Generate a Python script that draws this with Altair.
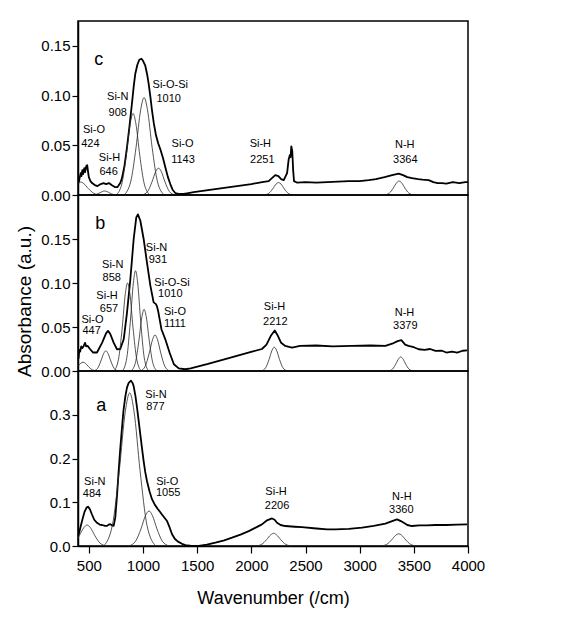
import altair as alt
import pandas as pd

FONT = "Liberation Sans"
X_DOMAIN = [400, 4000]

# ---------------- panel c ----------------
c_wn = [405, 415, 425, 432, 440, 448, 458, 466, 476, 485, 492, 500, 515, 530, 555, 580,
        610, 635, 660, 685, 710, 740, 765, 790, 806, 830, 852, 875, 898, 915, 929, 948,
        966, 985, 1000, 1021, 1037, 1052, 1068, 1083, 1100, 1120, 1140, 1160, 1185, 1206,
        1230, 1252, 1275, 1298, 1340, 1375, 1420, 1468, 1600, 1800, 2000, 2100, 2160, 2190,
        2221, 2250, 2275, 2299, 2330, 2345, 2355, 2362, 2369, 2378, 2386, 2394, 2420, 2500,
        2600, 2700, 2800, 2900, 3000, 3083, 3150, 3230, 3300, 3360, 3400, 3440, 3483, 3540,
        3580, 3637, 3680, 3720, 3760, 3800, 3860, 3920, 3975, 4000]
c_abs = [0.012, 0.017, 0.022, 0.019, 0.025, 0.021, 0.027, 0.023, 0.029, 0.030, 0.024, 0.018,
         0.014, 0.012, 0.010, 0.009, 0.011, 0.012, 0.011, 0.012, 0.010, 0.008, 0.008, 0.012,
         0.017, 0.030, 0.048, 0.069, 0.092, 0.110, 0.122, 0.131, 0.136, 0.137, 0.135, 0.130,
         0.122, 0.112, 0.099, 0.085, 0.072, 0.060, 0.052, 0.046, 0.037, 0.028, 0.018, 0.011,
         0.005, 0.002, 0.001, 0.001, 0.002, 0.003, 0.005, 0.008, 0.011, 0.013, 0.014, 0.017,
         0.020, 0.019, 0.016, 0.015, 0.022, 0.036, 0.040, 0.038, 0.049, 0.044, 0.025, 0.014,
         0.0125, 0.013, 0.0125, 0.013, 0.0135, 0.014, 0.014, 0.015, 0.016, 0.018, 0.020,
         0.0215, 0.020, 0.018, 0.017, 0.016, 0.0155, 0.015, 0.013, 0.012, 0.012, 0.0115,
         0.013, 0.012, 0.013, 0.013]

c_bands = [
    ("Si-O 424", [400, 424, 454, 496, 544, 604], [0.0125, 0.013, 0.0114, 0.0064, 0.0018, 0.0]),
    ("Si-H 646", [526, 566, 598, 626, 646, 666, 694, 726, 766],
     [0, 0.0005, 0.002, 0.0035, 0.004, 0.0035, 0.002, 0.0005, 0]),
    ("Si-N 908", [752, 804, 846, 882, 908, 934, 970, 1012, 1064],
     [0, 0.011, 0.040, 0.072, 0.082, 0.072, 0.040, 0.011, 0]),
    ("Si-O-Si 1010", [824, 886, 936, 979, 1010, 1041, 1084, 1134, 1196],
     [0, 0.0132, 0.048, 0.086, 0.098, 0.086, 0.048, 0.0132, 0]),
    ("Si-O 1143", [993, 1043, 1083, 1118, 1143, 1168, 1203, 1243, 1293],
     [0, 0.0036, 0.0132, 0.0238, 0.027, 0.0238, 0.0132, 0.0036, 0]),
    ("Si-H 2251", [2116, 2161, 2197, 2228, 2251, 2274, 2305, 2341, 2386],
     [0, 0.0017, 0.0061, 0.011, 0.0125, 0.011, 0.0061, 0.0017, 0]),
    ("N-H 3364", [3229, 3274, 3310, 3341, 3364, 3387, 3418, 3454, 3499],
     [0, 0.0019, 0.0069, 0.0123, 0.014, 0.0123, 0.0069, 0.0019, 0]),
]

c_notes = [("Si-O", 548, 0.0655), ("424", 514, 0.0510),
           ("Si-H", 691, 0.0372), ("646", 683, 0.0229),
           ("Si-N", 767, 0.0984), ("908", 767, 0.0823),
           ("Si-O-Si", 1252, 0.1102), ("1010", 1237, 0.0961),
           ("Si-O", 1365, 0.0510), ("1143", 1369, 0.0354),
           ("Si-H", 2083, 0.0510), ("2251", 2101, 0.0354),
           ("N-H", 3416, 0.0501), ("3364", 3421, 0.0354)]

# ---------------- panel b ----------------
b_wn = [405, 412, 420, 430, 440, 453, 465, 475, 490, 510, 540, 575, 622, 660, 677, 698,
        730, 760, 790, 822, 852, 883, 914, 938, 953, 975, 1006, 1037, 1068, 1098, 1120,
        1130, 1140, 1170, 1206, 1245, 1285, 1330, 1390, 1440, 1600, 1800, 2006, 2098,
        2140, 2180, 2216, 2245, 2275, 2313, 2375, 2450, 2600, 2750, 2929, 3100, 3237,
        3300, 3350, 3385, 3420, 3450, 3500, 3545, 3600, 3650, 3700, 3760, 3800, 3852,
        3900, 3950, 3991]
b_abs = [0.014, 0.024, 0.022, 0.028, 0.026, 0.0285, 0.032, 0.028, 0.0285, 0.025, 0.021,
         0.021, 0.032, 0.043, 0.0456, 0.042, 0.032, 0.0247, 0.025, 0.036, 0.066, 0.104,
         0.150, 0.1746, 0.178, 0.171, 0.150, 0.123, 0.097, 0.078, 0.076, 0.073, 0.068,
         0.0475, 0.036, 0.021, 0.0076, 0.003, 0.002, 0.003, 0.008, 0.015, 0.022, 0.025,
         0.030, 0.040, 0.046, 0.040, 0.032, 0.0285, 0.0266, 0.0285, 0.029, 0.028, 0.0285,
         0.029, 0.0285, 0.031, 0.034, 0.035, 0.030, 0.0285, 0.027, 0.0247, 0.024, 0.025,
         0.0228, 0.023, 0.021, 0.022, 0.021, 0.023, 0.0235]

b_bands = [
    ("Si-O 447", [400, 426, 447, 468, 497, 531, 573],
     [0.0053, 0.0088, 0.010, 0.0088, 0.0049, 0.0014, 0]),
    ("Si-H 657", [543, 581, 611, 638, 657, 676, 703, 733, 771],
     [0, 0.0031, 0.0113, 0.0202, 0.023, 0.0202, 0.0113, 0.0031, 0]),
    ("Si-N 858", [732, 774, 808, 837, 858, 879, 908, 942, 984],
     [0, 0.0135, 0.049, 0.088, 0.100, 0.088, 0.049, 0.0135, 0]),
    ("Si-N 931", [811, 851, 883, 911, 931, 951, 979, 1011, 1051],
     [0, 0.0154, 0.056, 0.100, 0.114, 0.100, 0.056, 0.0154, 0]),
    ("Si-O-Si 1010", [890, 930, 962, 990, 1010, 1030, 1058, 1090, 1130],
     [0, 0.0095, 0.0343, 0.0616, 0.070, 0.0616, 0.0343, 0.0095, 0]),
    ("Si-O 1111", [976, 1021, 1057, 1089, 1111, 1133, 1165, 1201, 1246],
     [0, 0.0055, 0.020, 0.036, 0.041, 0.036, 0.020, 0.0055, 0]),
    ("Si-H 2212", [2092, 2132, 2164, 2192, 2212, 2232, 2260, 2292, 2332],
     [0, 0.0036, 0.0132, 0.0238, 0.027, 0.0238, 0.0132, 0.0036, 0]),
    ("N-H 3379", [3265, 3303, 3333, 3360, 3379, 3398, 3425, 3455, 3493],
     [0, 0.0022, 0.0078, 0.014, 0.016, 0.014, 0.0078, 0.0022, 0]),
]

b_notes = [("Si-O", 534, 0.0585), ("447", 526, 0.0450),
           ("Si-H", 668, 0.0854), ("657", 686, 0.0706),
           ("Si-N", 721, 0.1203), ("858", 711, 0.1061),
           ("Si-N", 1125, 0.1395), ("931", 1137, 0.1260),
           ("Si-O-Si", 1268, 0.1003), ("1010", 1252, 0.0871),
           ("Si-O", 1295, 0.0673), ("1111", 1295, 0.0538),
           ("Si-H", 2214, 0.0729), ("2212", 2221, 0.0561),
           ("N-H", 3414, 0.0661), ("3379", 3421, 0.0512)]

# ---------------- panel a ----------------
a_wn = [405, 420, 440, 460, 480, 492, 510, 529, 550, 575, 600, 622, 650, 668, 685, 698,
        715, 729, 744, 760, 775, 790, 806, 820, 837, 852, 868, 889, 905, 914, 930, 945,
        960, 975, 990, 1006, 1020, 1037, 1060, 1083, 1110, 1138, 1160, 1175, 1200, 1222,
        1245, 1268, 1295, 1323, 1360, 1391, 1450, 1514, 1590, 1668, 1750, 1822, 1900,
        1976, 2040, 2098, 2145, 2191, 2215, 2237, 2270, 2314, 2400, 2468, 2600, 2700,
        2775, 2900, 3022, 3130, 3237, 3300, 3345, 3380, 3407, 3440, 3483, 3550, 3620,
        3699, 3800, 3900, 3991]
a_abs = [0.025, 0.040, 0.060, 0.078, 0.088, 0.090, 0.084, 0.072, 0.060, 0.053, 0.049,
         0.048, 0.046, 0.046, 0.049, 0.050, 0.047, 0.046, 0.065, 0.115, 0.171, 0.222,
         0.270, 0.310, 0.342, 0.362, 0.373, 0.378, 0.372, 0.365, 0.343, 0.316, 0.286,
         0.255, 0.225, 0.194, 0.170, 0.148, 0.125, 0.107, 0.094, 0.084, 0.077, 0.072,
         0.064, 0.057, 0.043, 0.027, 0.016, 0.010, 0.005, 0.002, 0.0005, 0.0, 0.003,
         0.0076, 0.013, 0.019, 0.026, 0.034, 0.042, 0.0495, 0.0587, 0.063, 0.060, 0.053,
         0.048, 0.0457, 0.044, 0.043, 0.040, 0.038, 0.038, 0.039, 0.042, 0.046, 0.051,
         0.057, 0.061, 0.057, 0.053, 0.048, 0.0457, 0.047, 0.047, 0.048, 0.048, 0.049,
         0.0495]

a_bands = [
    ("Si-N 484", [400, 412, 454, 484, 514, 556, 604, 664],
     [0.018, 0.0235, 0.042, 0.048, 0.042, 0.0235, 0.0065, 0]),
    ("Si-N 877", [637, 717, 781, 837, 877, 917, 973, 1037, 1117],
     [0, 0.047, 0.172, 0.308, 0.350, 0.308, 0.172, 0.047, 0]),
    ("Si-O 1055", [869, 931, 981, 1024, 1055, 1086, 1129, 1179, 1241],
     [0, 0.0108, 0.039, 0.070, 0.080, 0.070, 0.039, 0.0108, 0]),
    ("Si-H 2206", [2041, 2096, 2140, 2179, 2206, 2233, 2272, 2316, 2371],
     [0, 0.0039, 0.0142, 0.0255, 0.029, 0.0255, 0.0142, 0.0039, 0]),
    ("N-H 3360", [3195, 3250, 3294, 3333, 3360, 3387, 3426, 3470, 3525],
     [0, 0.0038, 0.0137, 0.0246, 0.028, 0.0246, 0.0137, 0.0038, 0]),
]

a_notes = [("Si-N", 1120, 0.3460), ("877", 1114, 0.3185),
           ("Si-N", 555, 0.1464), ("484", 529, 0.1180),
           ("Si-O", 1224, 0.1464), ("1055", 1233, 0.1203),
           ("Si-H", 2228, 0.1233), ("2206", 2237, 0.0922),
           ("N-H", 3389, 0.1119), ("3360", 3384, 0.0824)]


def bands_frame(bands):
    rows = []
    for name, wn, ab in bands:
        for w, v in zip(wn, ab):
            rows.append({"band": name, "wn": w, "ab": v})
    return pd.DataFrame(rows)


def panel(wn, ab, bands, notes, letter, letter_pos, ymax, yticks, label_test,
          fmt, height, bottom, ytitle=None):
    xs = alt.Scale(domain=X_DOMAIN, nice=False, zero=False)
    ys = alt.Scale(domain=[0, ymax], nice=False, zero=False)
    if bottom:
        x_axis = alt.Axis(
            values=list(range(500, 4001, 250)), format="d",
            labelExpr="datum.value % 500 === 0 ? datum.label : ''",
            tickSize={"condition": {"test": "datum.value % 500 !== 0", "value": 4}, "value": 7},
            title="Wavenumber (/cm)", titleFontSize=18, titleFontWeight="normal",
            titlePadding=16, labelPadding=5, labelFlush=False)
    else:
        x_axis = None
    y_kwargs = dict(
        values=yticks, format=fmt,
        labelExpr=f"{label_test} ? datum.label : ''",
        tickSize={"condition": {"test": f"!({label_test})", "value": 4}, "value": 6},
        labelPadding=2, labelFlush=False)
    if ytitle:
        y_axis = alt.Axis(title=ytitle, titleFontSize=19, titleFontWeight="normal",
                          titlePadding=6, titleY=106, **y_kwargs)
    else:
        y_axis = alt.Axis(title=None, **y_kwargs)

    x = alt.X("wn:Q", scale=xs, axis=x_axis)
    y = alt.Y("ab:Q", scale=ys, axis=y_axis)

    spec = alt.Chart(pd.DataFrame({"wn": wn, "ab": ab})).mark_line(
        color="black", strokeWidth=1.8, strokeJoin="round").encode(x=x, y=y)
    comp = alt.Chart(bands_frame(bands)).mark_line(
        color="#2a2a2a", strokeWidth=0.8, interpolate="monotone").encode(
        x="wn:Q", y="ab:Q", detail="band:N")
    txt = alt.Chart(pd.DataFrame(notes, columns=["t", "wn", "ab"])).mark_text(
        font=FONT, fontSize=11, color="black", align="center", baseline="middle").encode(
        x="wn:Q", y="ab:Q", text="t:N")
    tag = alt.Chart(pd.DataFrame([{"t": letter, "wn": letter_pos[0], "ab": letter_pos[1]}])).mark_text(
        font=FONT, fontSize=18, color="black", align="center", baseline="middle").encode(
        x="wn:Q", y="ab:Q", text="t:N")
    return alt.layer(spec, comp, txt, tag).properties(width=390, height=height)


pc = panel(c_wn, c_abs, c_bands, c_notes, "c", (591, 0.1355), 0.175,
           [0, 0.025, 0.05, 0.075, 0.1, 0.125, 0.15, 0.175],
           "round(datum.value * 1000) % 50 === 0", ".2f", 174, False)
pb = panel(b_wn, b_abs, b_bands, b_notes, "b", (606, 0.167), 0.2,
           [0, 0.025, 0.05, 0.075, 0.1, 0.125, 0.15, 0.175],
           "round(datum.value * 1000) % 50 === 0", ".2f", 176, False,
           ytitle="Absorbance (a.u.)")
pa = panel(a_wn, a_abs, a_bands, a_notes, "a", (615, 0.320), 0.4,
           [0, 0.05, 0.1, 0.15, 0.2, 0.25, 0.3, 0.35],
           "round(datum.value * 100) % 10 === 0", ".1f", 175, True)

chart = alt.vconcat(pc, pb, pa, spacing=0, bounds="flush").properties(
    padding={"left": 15, "top": 20, "right": 10, "bottom": 10},
    background="white",
).configure_view(
    stroke="black", strokeWidth=1.5
).configure_axis(
    domainColor="black", domainWidth=1.5, tickColor="black", tickWidth=1.2,
    labelColor="black", labelFont=FONT, labelFontSize=15, titleFont=FONT,
    titleColor="black", grid=False
).configure_text(font=FONT)

chart.save("out.html", embed_options={"renderer": "svg", "actions": False})
